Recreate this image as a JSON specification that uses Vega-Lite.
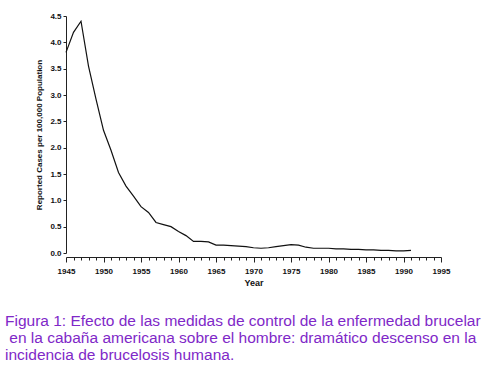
{
  "$schema": "https://vega.github.io/schema/vega-lite/v6.json",
  "autosize": "none",
  "width": 375,
  "height": 237,
  "padding": {"left": 66, "top": 16, "right": 59, "bottom": 115},
  "background": "white",
  "config": {"view": {"stroke": null}, "font": "Liberation Sans"},
  "title": {
    "text": ["Figura 1: Efecto de las medidas de control de la enfermedad brucelar", "\u200b\u00a0en la cabaña americana sobre el hombre: dramático descenso en la", "incidencia de brucelosis humana."],
    "orient": "bottom",
    "anchor": "start",
    "frame": "group",
    "dx": -61,
    "offset": 27,
    "font": "Liberation Sans",
    "fontSize": 15.5,
    "fontWeight": "normal",
    "lineHeight": 17,
    "color": "#8028c8"
  },
  "data": {"values": [
    {"year": 1945, "rate": 3.81},
    {"year": 1946, "rate": 4.19},
    {"year": 1947, "rate": 4.40},
    {"year": 1948, "rate": 3.55},
    {"year": 1949, "rate": 2.92},
    {"year": 1950, "rate": 2.33},
    {"year": 1951, "rate": 1.95},
    {"year": 1952, "rate": 1.53},
    {"year": 1953, "rate": 1.27},
    {"year": 1954, "rate": 1.08},
    {"year": 1955, "rate": 0.88},
    {"year": 1956, "rate": 0.77},
    {"year": 1957, "rate": 0.58},
    {"year": 1958, "rate": 0.54},
    {"year": 1959, "rate": 0.50},
    {"year": 1960, "rate": 0.41},
    {"year": 1961, "rate": 0.33},
    {"year": 1962, "rate": 0.22},
    {"year": 1963, "rate": 0.22},
    {"year": 1964, "rate": 0.21},
    {"year": 1965, "rate": 0.15},
    {"year": 1966, "rate": 0.15},
    {"year": 1967, "rate": 0.14},
    {"year": 1968, "rate": 0.13},
    {"year": 1969, "rate": 0.12},
    {"year": 1970, "rate": 0.10},
    {"year": 1971, "rate": 0.09},
    {"year": 1972, "rate": 0.10},
    {"year": 1973, "rate": 0.12},
    {"year": 1974, "rate": 0.14},
    {"year": 1975, "rate": 0.16},
    {"year": 1976, "rate": 0.15},
    {"year": 1977, "rate": 0.11},
    {"year": 1978, "rate": 0.09},
    {"year": 1979, "rate": 0.09},
    {"year": 1980, "rate": 0.09},
    {"year": 1981, "rate": 0.08},
    {"year": 1982, "rate": 0.08},
    {"year": 1983, "rate": 0.07},
    {"year": 1984, "rate": 0.07},
    {"year": 1985, "rate": 0.06},
    {"year": 1986, "rate": 0.06},
    {"year": 1987, "rate": 0.05},
    {"year": 1988, "rate": 0.05},
    {"year": 1989, "rate": 0.04},
    {"year": 1990, "rate": 0.04},
    {"year": 1991, "rate": 0.05}
  ]},
  "mark": {"type": "line", "color": "#111111", "strokeWidth": 1.2},
  "encoding": {
    "x": {
      "field": "year", "type": "quantitative",
      "scale": {"domain": [1945, 1995], "nice": false, "zero": false},
      "axis": {
        "title": "Year",
        "titleFont": "Liberation Sans", "titleFontSize": 9, "titleFontWeight": "bold", "titleColor": "#111111", "titlePadding": 3,
        "values": [1945,1946,1947,1948,1949,1950,1951,1952,1953,1954,1955,1956,1957,1958,1959,1960,1961,1962,1963,1964,1965,1966,1967,1968,1969,1970,1971,1972,1973,1974,1975,1976,1977,1978,1979,1980,1981,1982,1983,1984,1985,1986,1987,1988,1989,1990,1991,1992,1993,1994,1995],
        "labelExpr": "datum.value % 5 === 0 ? datum.label : ''",
        "format": "d",
        "labelFont": "Liberation Sans", "labelFontSize": 8, "labelFontWeight": "bold", "labelColor": "#111111",
        "labelPadding": 5, "labelFlush": false, "labelOverlap": false,
        "tickSize": {"condition": {"test": "datum.value % 5 === 0", "value": 5}, "value": 3},
        "tickColor": "#222222", "domainColor": "#222222",
        "offset": 4, "grid": false
      }
    },
    "y": {
      "field": "rate", "type": "quantitative",
      "scale": {"domain": [0, 4.5], "nice": false},
      "axis": {
        "title": "Reported Cases per 100,000 Population",
        "titleFont": "Liberation Sans", "titleFontSize": 8, "titleFontWeight": "bold", "titleColor": "#111111", "titlePadding": 6,
        "values": [0, 0.5, 1, 1.5, 2, 2.5, 3, 3.5, 4, 4.5],
        "format": ".1f",
        "labelFont": "Liberation Sans", "labelFontSize": 8, "labelFontWeight": "bold", "labelColor": "#111111",
        "labelPadding": 2, "labelFlush": false,
        "tickSize": 3, "tickColor": "#222222", "domainColor": "#222222",
        "grid": false
      }
    }
  }
}
